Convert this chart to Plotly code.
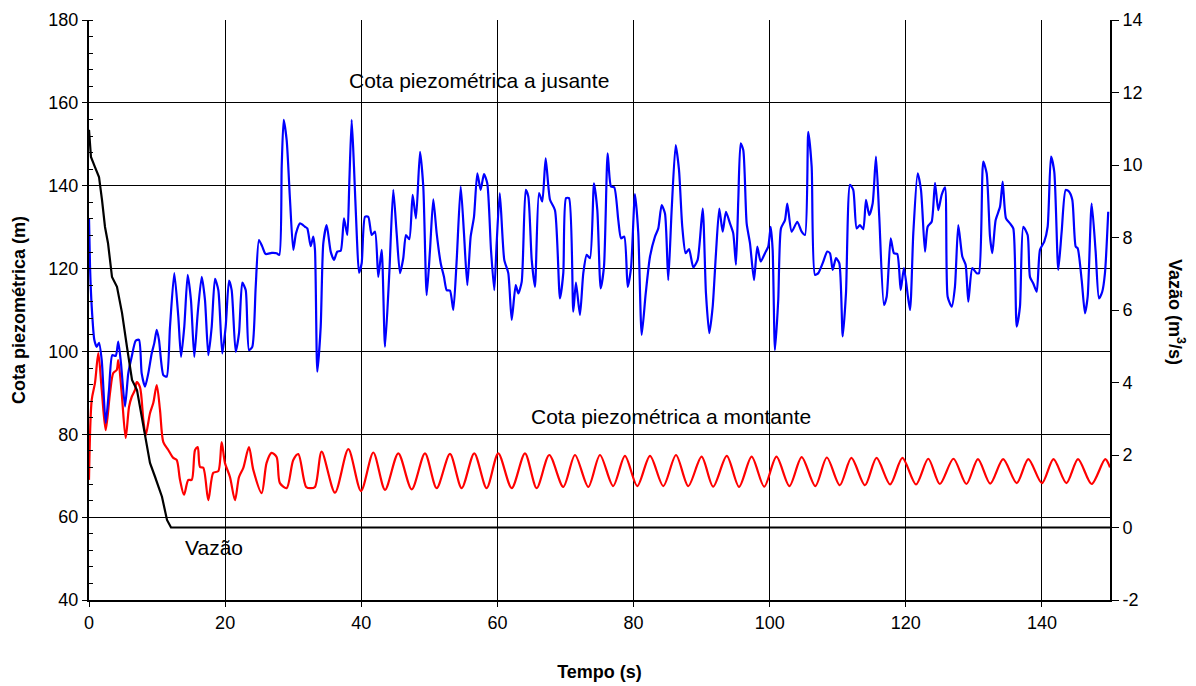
import plotly.graph_objects as go

# ---------------- data ----------------
# Cota piezométrica a jusante (m) - blue
t_jus = [0, 0.15, 0.40, 0.78, 1.13, 1.47, 1.87, 2.45, 2.94, 3.42, 3.92, 4.30, 4.70, 5.29, 5.77, 6.27,
         6.86, 7.35, 7.74, 8.23, 8.71, 9.21, 9.59, 9.95, 10.28, 10.92, 11.41, 11.90, 12.53, 13.12,
         13.52, 14.00, 14.50, 14.98, 15.47, 15.97, 16.56, 17.04, 17.53, 18.03, 18.51, 19.00, 19.58,
         20.08, 20.57, 20.96, 21.55, 22.04, 22.52, 23.02, 23.51, 23.99, 24.49, 24.97, 25.46, 25.96,
         26.84, 27.57, 27.96, 28.31, 28.60, 29.04, 29.53, 30.01, 30.41, 31.00, 31.73, 32.07, 32.57,
         32.95, 33.20, 33.54, 34.04, 34.42, 34.92, 35.51, 35.99, 36.48, 36.98, 37.46, 37.95, 38.24,
         38.59, 38.93, 39.33, 39.67, 40.06, 40.55, 41.03, 41.53, 42.02, 42.50, 43.00, 43.49, 44.12,
         44.70, 45.20, 45.69, 46.17, 46.57, 47.06, 47.55, 48.04, 48.63, 49.11, 49.61, 50.10, 50.58,
         51.08, 51.67, 52.15, 52.55, 53.03, 53.52, 54.02, 54.61, 55.09, 55.58, 56.07, 56.56, 57.05,
         57.54, 58.03, 58.51, 59.06, 59.54, 59.89, 60.35, 61.01, 61.60, 62.10, 62.69, 63.07, 63.57,
         64.16, 64.54, 65.04, 65.52, 66.11, 66.59, 67.09, 67.73, 68.46, 69.19, 69.68, 70.08, 70.52,
         71.15, 71.54, 72.13, 72.62, 73.12, 73.60, 74.19, 74.68, 75.17, 75.66, 76.20, 76.69, 77.17,
         77.76, 78.16, 78.64, 79.14, 79.63, 80.21, 80.70, 81.20, 81.79, 82.42, 83.15, 83.64, 84.13,
         84.62, 85.10, 85.60, 86.19, 86.68, 87.16, 87.66, 88.15, 88.78, 89.42, 90.16, 90.64, 91.13,
         91.63, 92.11, 92.60, 93.10, 93.58, 94.17, 94.65, 95.05, 95.39, 95.74, 96.12, 96.62, 97.11,
         97.70, 98.18, 98.68, 99.31, 99.79, 100.15, 100.44, 100.78, 101.26, 101.66, 102.25, 102.59,
         103.23, 104.06, 104.70, 105.19, 105.67, 106.17, 106.66, 107.14, 107.79, 108.46, 108.86,
         109.26, 109.74, 110.23, 110.73, 111.21, 111.80, 112.28, 112.78, 113.27, 113.75, 114.15,
         114.63, 115.13, 115.62, 116.10, 116.79, 117.19, 117.78, 118.26, 118.75, 119.25, 119.73,
         120.61, 121.10, 121.74, 122.23, 122.82, 123.21, 123.80, 124.29, 124.77, 125.27, 125.76,
         126.15, 126.74, 127.22, 127.71, 128.30, 128.79, 129.18, 129.77, 130.41, 130.75, 131.38,
         131.88, 132.37, 132.71, 133.20, 133.84, 134.23, 134.72, 135.30, 135.79, 136.29, 136.77,
         137.26, 137.90, 138.24, 138.73, 139.23, 139.71, 140.34, 140.84, 141.33, 141.81, 142.40,
         142.90, 143.49, 143.97, 144.46, 144.96, 145.25, 145.84, 146.32, 146.72, 147.31, 147.89,
         148.38, 148.86, 149.26, 149.74]
h_jus = [132.1, 120.5, 110.8, 102.8, 101.1, 102.1, 97.9, 82.7, 90.7, 99.1, 98.9, 102.4, 97.1, 86.7, 94.7, 98.7,
         102.6, 102.8, 94.7, 91.5, 94.7, 99.5, 102.0, 105.2, 102.8, 94.3, 93.9, 106.0, 118.9, 108.4,
         98.7, 106.0, 118.5, 112.4, 98.7, 109.2, 118.0, 112.4, 99.1, 106.0, 117.5, 114.8, 99.5,
         106.0, 117.1, 114.8, 99.9, 104.4, 116.6, 114.8, 100.3, 101.1, 115.6, 126.9, 125.3, 123.5,
         123.8, 123.7, 123.3, 144.6, 155.9, 151.0, 136.6, 124.5, 128.5, 130.9, 130.1, 129.7, 125.4,
         127.7, 124.5, 95.1, 106.0, 126.1, 130.5, 124.1, 122.1, 124.1, 124.3, 132.1, 128.1, 140.6,
         155.9, 144.6, 128.5, 119.0, 121.3, 132.5, 132.5, 128.1, 128.9, 118.0, 124.5, 101.1, 118.9,
         139.0, 128.5, 118.9, 122.5, 128.1, 127.1, 137.8, 132.1, 148.2, 139.8, 113.6, 124.5, 136.7,
         128.5, 121.3, 118.0, 114.8, 114.7, 110.0, 122.1, 139.8, 128.5, 116.0, 127.7, 132.5, 143.0,
         139.0, 142.8, 140.6, 124.5, 114.8, 126.1, 138.2, 122.1, 118.9, 107.6, 116.0, 114.0, 116.8,
         139.0, 137.4, 122.1, 115.6, 138.2, 136.2, 146.6, 136.6, 134.1, 112.8, 118.9, 137.0, 137.0,
         109.6, 116.6, 108.8, 118.9, 123.3, 122.5, 140.6, 134.1, 115.2, 120.5, 147.8, 139.8, 139.6,
         131.7, 127.3, 127.7, 115.6, 120.1, 138.0, 128.5, 104.0, 114.0, 122.9, 127.7, 129.7, 135.3,
         133.3, 117.2, 134.1, 149.8, 143.8, 130.1, 123.7, 124.7, 120.3, 122.1, 134.5, 114.0, 104.4,
         110.8, 123.7, 134.5, 128.9, 133.7, 130.9, 128.5, 120.9, 136.6, 150.2, 148.6, 130.9, 126.1,
         117.2, 125.3, 121.7, 123.7, 125.3, 130.1, 124.5, 100.3, 112.4, 129.7, 131.7, 135.7,
         128.9, 131.3, 128.9, 128.1, 153.0, 144.6, 118.5, 118.9, 121.3, 124.1, 123.7,
         119.7, 122.5, 121.3, 103.6, 114.0, 140.2, 139.0, 129.7, 130.5, 129.5, 136.6,
         132.9, 135.7, 147.0, 132.5, 111.2, 113.2, 127.3, 123.7, 123.5, 114.8, 120.1,
         110.0, 128.5, 143.0, 139.0, 124.1, 130.1, 131.3, 140.7, 134.1, 137.8, 139.6,
         113.2, 110.8, 115.6, 130.5, 122.9, 120.9, 112.0, 120.1, 118.9, 118.9, 145.8,
         143.0, 127.7, 123.7, 131.7, 134.9, 141.0, 132.1, 130.9, 129.7, 106.0, 110.8,
         130.1, 128.1, 118.0, 116.4, 114.4, 124.5, 126.5, 130.1, 147.0, 143.4, 119.7,
         128.9, 139.0, 138.6, 136.6, 125.3, 124.9, 117.2, 109.2, 113.2, 135.7, 124.1,
         112.8, 114.4, 118.9, 133.7]

# Cota piezométrica a montante (m) - red
t_mon = [0, 0.40, 0.88, 1.37, 1.87, 2.45, 3.09, 3.57, 4.07, 4.30, 4.80, 5.39, 5.88, 6.27, 6.76, 7.01,
         7.49, 7.98, 8.33, 8.96, 9.45, 9.95, 10.43, 10.92, 11.65, 12.38, 12.88, 13.37, 13.96, 14.59,
         15.09, 15.58, 15.97, 16.31, 16.79, 17.53, 18.26, 18.99, 19.49, 19.97, 20.71, 21.45, 22.04,
         22.67, 23.50, 24.14, 25.37, 26.09, 26.83, 27.56, 28.05, 29.04, 30.01, 30.75, 31.90, 32.57,
         33.20, 34.18, 36.14, 38.10, 39.96, 41.77, 43.49, 45.44, 47.41, 49.36, 51.08, 53.03, 54.75,
         56.60, 58.42, 60.13, 62.10, 64.05, 65.77, 67.62, 69.68, 71.40, 73.35, 75.07, 77.00, 78.74,
         80.55, 82.42, 84.37, 86.24, 88.04, 90.00, 91.70, 93.70, 95.50, 97.35, 99.20, 101.00,
         102.90, 104.70, 106.70, 108.40, 110.30, 112.00, 114.00, 115.70, 117.70, 119.50, 121.50,
         123.30, 125.00, 127.00, 128.90, 130.60, 132.40, 134.30, 136.30, 138.00, 140.00, 141.70,
         143.60, 145.30, 147.30, 149.30, 150.00]
h_mon = [69.0, 88.3, 92.4, 99.6, 90.7, 81.0, 90.0, 94.8, 95.5, 97.9, 90.0, 79.1, 86.6, 89.0, 90.7, 92.6,
         91.4, 83.5, 79.8, 85.1, 87.6, 91.9, 85.9, 78.1, 76.2, 74.3, 73.8, 69.0, 65.4, 69.0,
         69.0, 76.2, 76.9, 72.1, 71.9, 64.1, 70.7, 71.1, 78.1, 73.1, 69.7, 64.1, 69.7,
         71.9, 76.9, 71.4, 65.8, 73.1, 75.5, 74.5, 68.2, 67.0, 73.8, 75.2, 67.3, 67.0,
         67.3, 75.8, 65.9, 76.4, 66.3, 75.6, 66.6, 75.4, 66.7, 75.4, 67.0, 75.25, 67.0,
         75.4, 67.0, 75.4, 67.0, 75.4, 67.0, 75.0, 67.3, 75.0, 67.3, 75.0, 67.5, 74.8,
         67.5, 74.8, 67.5, 75.0, 67.5, 74.6, 67.35, 74.8, 67.3, 74.6, 67.35, 74.6,
         67.5, 74.5, 67.5, 74.4, 67.7, 74.3, 67.7, 74.3, 67.9, 74.3, 67.9,
         74.1, 68.0, 74.1, 68.0, 74.0, 68.1, 74.0, 68.2, 74.0, 68.2, 74.0,
         68.2, 74.0, 68.0, 74.0, 72.0]

# Vazão (m3/s) - black, right axis
t_q = [0, 0.29, 0.88, 1.47, 1.91, 2.35, 2.79, 3.38, 4.11, 4.85, 5.58, 6.32, 7.05, 7.49, 8.23, 8.96,
       9.70, 10.72, 11.46, 12.05, 150]
q = [10.97, 10.22, 9.94, 9.67, 9.04, 8.29, 7.85, 6.91, 6.64, 5.92, 4.98, 4.07, 3.79, 3.33, 2.61, 1.78,
     1.40, 0.85, 0.21, 0.0, 0.0]

# right-axis tick labels (plain hyphen minus as in the reference)
q_tickvals = [-2, 0, 2, 4, 6, 8, 10, 12, 14]
q_ticktext = ["-2", "0", "2", "4", "6", "8", "10", "12", "14"]

FONT = "Liberation Sans, Arial, sans-serif"
W, H = 1196, 686
ML, MR, MT, MB = 89, 86, 20, 86

fig = go.Figure()
fig.add_trace(go.Scatter(x=t_mon, y=h_mon, mode="lines",
                         line=dict(color="#ff0000", width=2.2, shape="spline", smoothing=0.8),
                         name="Cota piezométrica a montante"))
fig.add_trace(go.Scatter(x=t_jus, y=h_jus, mode="lines",
                         line=dict(color="#0000ff", width=2.2, shape="spline", smoothing=0.6),
                         name="Cota piezométrica a jusante"))
fig.add_trace(go.Scatter(x=t_q, y=q, mode="lines", yaxis="y2",
                         line=dict(color="black", width=2.2), name="Vazão"))

pw = W - ML - MR
ph = H - MT - MB

fig.update_layout(
    width=W, height=H,
    margin=dict(l=ML, r=MR, t=MT, b=MB, autoexpand=False),
    paper_bgcolor="white", plot_bgcolor="white",
    showlegend=False,
    font=dict(family=FONT, size=18, color="black"),
    xaxis=dict(range=[0, 150], dtick=20, tick0=0, showgrid=True, gridcolor="black", gridwidth=1,
               showline=True, linecolor="black", linewidth=2, ticks="outside", ticklen=5,
               tickcolor="black", zeroline=False,
               title=dict(text="<b>Tempo (s)</b>", font=dict(size=18), standoff=34)),
    yaxis=dict(range=[40, 180], dtick=20, tick0=40, showgrid=True, gridcolor="black", gridwidth=1,
               showline=True, linecolor="black", linewidth=2, ticks="outside", ticklen=5,
               tickcolor="black", zeroline=False,
               minor=dict(dtick=4, ticks="inside", ticklen=4, tickcolor="black", showgrid=False),
               title=dict(text="<b>Cota piezométrica (m)</b>", font=dict(size=18), standoff=18)),
    yaxis2=dict(range=[-2, 14], tickmode="array", tickvals=q_tickvals, ticktext=q_ticktext,
                overlaying="y", side="right", anchor="x",
                showgrid=False, showline=True, linecolor="black", linewidth=2, ticks="outside",
                ticklen=7, tickcolor="black", zeroline=False),
    annotations=[
        dict(x=57.3, y=165.3, xref="x", yref="y", text="Cota piezométrica a jusante",
             showarrow=False, font=dict(size=21)),
        dict(x=85.5, y=84.4, xref="x", yref="y", text="Cota piezométrica a montante",
             showarrow=False, font=dict(size=21)),
        dict(x=18.3, y=52.6, xref="x", yref="y", text="Vazão",
             showarrow=False, font=dict(size=21)),
        dict(x=(1177 - ML) / pw, y=(H - MB - 312) / ph, xref="paper", yref="paper",
             text="<b>Vazão (m<sup>3</sup>/s)</b>", xanchor="center", yanchor="middle",
             showarrow=False, textangle=90, font=dict(size=18)),
    ],
)

fig.write_html("out.html", config={"displayModeBar": False},
               post_script="document.body.style.margin='0';document.body.style.padding='0';")
